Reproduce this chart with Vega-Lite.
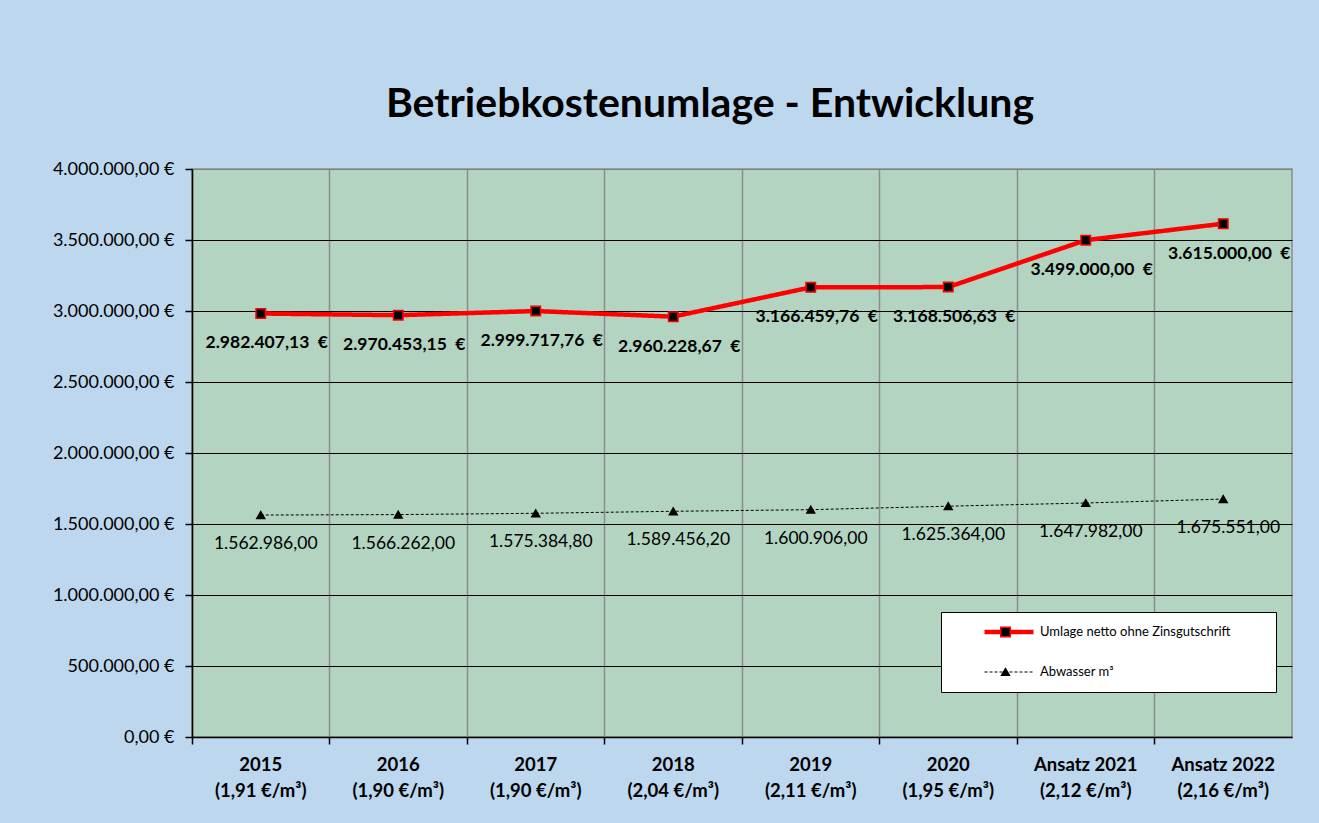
{
  "$schema": "https://vega.github.io/schema/vega-lite/v6.json",
  "width": 1100,
  "height": 568,
  "autosize": {"type": "none"},
  "padding": {"left": 192, "top": 169, "right": 27, "bottom": 86},
  "background": "#BDD7EE",
  "title": {
    "text": "Betriebkostenumlage - Entwicklung",
    "font": "Lato",
    "fontSize": 41,
    "fontWeight": "bold",
    "color": "#000000",
    "anchor": "middle",
    "frame": "group",
    "baseline": "alphabetic",
    "offset": 51,
    "dy": 49,
    "dx": -32
  },
  "config": {
    "locale": {"number": {"decimal": ",", "thousands": ".", "grouping": [3], "currency": ["", " \u00a0€"]}},
    "view": {"fill": "#B2D4C0", "stroke": "#8C8C8C", "strokeWidth": 1.5},
    "font": "Lato"
  },
  "data": {
    "values": [
      {"cat": "2015|(1,91 €/m³)", "series": "Umlage netto ohne Zinsgutschrift", "value": 2982407.13},
      {"cat": "2016|(1,90 €/m³)", "series": "Umlage netto ohne Zinsgutschrift", "value": 2970453.15},
      {"cat": "2017|(1,90 €/m³)", "series": "Umlage netto ohne Zinsgutschrift", "value": 2999717.76},
      {"cat": "2018|(2,04 €/m³)", "series": "Umlage netto ohne Zinsgutschrift", "value": 2960228.67},
      {"cat": "2019|(2,11 €/m³)", "series": "Umlage netto ohne Zinsgutschrift", "value": 3166459.76},
      {"cat": "2020|(1,95 €/m³)", "series": "Umlage netto ohne Zinsgutschrift", "value": 3168506.63},
      {"cat": "Ansatz 2021|(2,12 €/m³)", "series": "Umlage netto ohne Zinsgutschrift", "value": 3499000.00},
      {"cat": "Ansatz 2022|(2,16 €/m³)", "series": "Umlage netto ohne Zinsgutschrift", "value": 3615000.00},
      {"cat": "2015|(1,91 €/m³)", "series": "Abwasser m³", "value": 1562986.00},
      {"cat": "2016|(1,90 €/m³)", "series": "Abwasser m³", "value": 1566262.00},
      {"cat": "2017|(1,90 €/m³)", "series": "Abwasser m³", "value": 1575384.80},
      {"cat": "2018|(2,04 €/m³)", "series": "Abwasser m³", "value": 1589456.20},
      {"cat": "2019|(2,11 €/m³)", "series": "Abwasser m³", "value": 1600906.00},
      {"cat": "2020|(1,95 €/m³)", "series": "Abwasser m³", "value": 1625364.00},
      {"cat": "Ansatz 2021|(2,12 €/m³)", "series": "Abwasser m³", "value": 1647982.00},
      {"cat": "Ansatz 2022|(2,16 €/m³)", "series": "Abwasser m³", "value": 1675551.00}
    ]
  },
  "encoding": {
    "x": {
      "field": "cat",
      "type": "nominal",
      "sort": null,
      "scale": {"type": "band", "paddingInner": 0, "paddingOuter": 0},
      "axis": {
        "title": null,
        "orient": "bottom",
        "bandPosition": 0,
        "grid": true,
        "gridColor": "#8C8C8C",
        "gridWidth": 1.5,
        "domainColor": "#000000",
        "domainWidth": 1.5,
        "tickColor": "#000000",
        "tickSize": 7,
        "tickWidth": 1.5,
        "labelExpr": "split(datum.label, '|')",
        "labelFont": "Lato",
        "labelFontSize": 18.5,
        "labelFontWeight": "bold",
        "labelColor": "#000000",
        "labelPadding": 11,
        "labelLineHeight": 26,
        "labelAngle": 0,
        "labelBaseline": "top",
        "labelOverlap": false,
        "labelBound": false,
        "labelFlush": false
      }
    },
    "y": {
      "field": "value",
      "type": "quantitative",
      "scale": {"domain": [0, 4000000], "nice": false},
      "axis": {
        "title": null,
        "values": [0, 500000, 1000000, 1500000, 2000000, 2500000, 3000000, 3500000, 4000000],
        "format": ",.2f",
        "labelExpr": "datum.label + ' €'",
        "grid": true,
        "gridColor": {"condition": {"test": "datum.value == 4000000", "value": "#808080"}, "value": "#000000"},
        "gridWidth": 1.2,
        "domainColor": "#000000",
        "domainWidth": 1.5,
        "tickColor": "#000000",
        "tickSize": 7,
        "tickWidth": 1.5,
        "labelPadding": 11,
        "labelFont": "Lato",
        "labelFontSize": 18,
        "labelColor": "#000000"
      }
    }
  },
  "layer": [
    {
      "mark": {"type": "line"},
      "encoding": {
        "color": {
          "field": "series",
          "type": "nominal",
          "scale": {"domain": ["Umlage netto ohne Zinsgutschrift", "Abwasser m³"], "range": ["#FF0000", "#000000"]},
          "legend": {
            "orient": "none",
            "legendX": 749,
            "legendY": 443,
            "title": "\u00a0",
            "titleOrient": "right",
            "titlePadding": 36,
            "titleFontSize": 8,
            "fillColor": "#FFFFFF",
            "strokeColor": "#000000",
            "padding": 10,
            "symbolType": "stroke",
            "symbolSize": 2401,
            "symbolOffset": 31,
            "clipHeight": 20,
            "labelOffset": 4,
            "labelLimit": 400,
            "rowPadding": 20,
            "labelFont": "Lato",
            "labelFontSize": 13,
            "labelColor": "#000000"
          }
        },
        "strokeDash": {
          "field": "series",
          "type": "nominal",
          "scale": {"domain": ["Umlage netto ohne Zinsgutschrift", "Abwasser m³"], "range": [[1, 0], [3, 2]]},
          "legend": {"orient": "none", "legendX": 749, "legendY": 443, "title": "\u00a0"}
        },
        "strokeWidth": {
          "field": "series",
          "type": "ordinal",
          "scale": {"domain": ["Umlage netto ohne Zinsgutschrift", "Abwasser m³"], "range": [4.5, 1]},
          "legend": {"orient": "none", "legendX": 749, "legendY": 443, "title": "\u00a0"}
        }
      }
    },
    {
      "transform": [{"calculate": "'m_' + datum.series", "as": "marker"}],
      "mark": {"type": "point", "filled": false, "fill": "#000000", "fillOpacity": 1, "opacity": 1, "strokeWidth": 1.5},
      "encoding": {
        "stroke": {
          "field": "marker",
          "type": "nominal",
          "scale": {"domain": ["m_Umlage netto ohne Zinsgutschrift", "m_Abwasser m³"], "range": ["#FF0000", "#000000"]},
          "legend": {
            "orient": "none",
            "legendX": 749,
            "legendY": 443,
            "title": null,
            "padding": 10,
            "symbolOffset": 49,
            "clipHeight": 20,
            "rowPadding": 20,
            "labelExpr": "''",
            "symbolFillColor": "#000000",
            "symbolOpacity": 1,
            "symbolStrokeWidth": 1.5
          }
        },
        "shape": {
          "field": "marker",
          "type": "nominal",
          "scale": {"domain": ["m_Umlage netto ohne Zinsgutschrift", "m_Abwasser m³"], "range": ["square", "triangle-up"]},
          "legend": {"orient": "none", "legendX": 749, "legendY": 443, "title": null}
        },
        "size": {
          "field": "marker",
          "type": "nominal",
          "scale": {"domain": ["m_Umlage netto ohne Zinsgutschrift", "m_Abwasser m³"], "range": [90, 60]},
          "legend": {"orient": "none", "legendX": 749, "legendY": 443, "title": null}
        }
      }
    },
    {
      "transform": [{"filter": "datum.series == 'Umlage netto ohne Zinsgutschrift'"}],
      "mark": {"type": "text", "font": "Lato", "fontSize": 17.5, "fontWeight": "bold", "color": "#000000", "dx": 6, "dy": 30, "align": "center", "baseline": "middle"},
      "encoding": {"text": {"field": "value", "type": "quantitative", "format": "$,.2f"}}
    },
    {
      "transform": [{"filter": "datum.series == 'Abwasser m³'"}],
      "mark": {"type": "text", "font": "Lato", "fontSize": 17.5, "color": "#000000", "dx": 5, "dy": 29, "align": "center", "baseline": "middle"},
      "encoding": {"text": {"field": "value", "type": "quantitative", "format": ",.2f"}}
    }
  ]
}
